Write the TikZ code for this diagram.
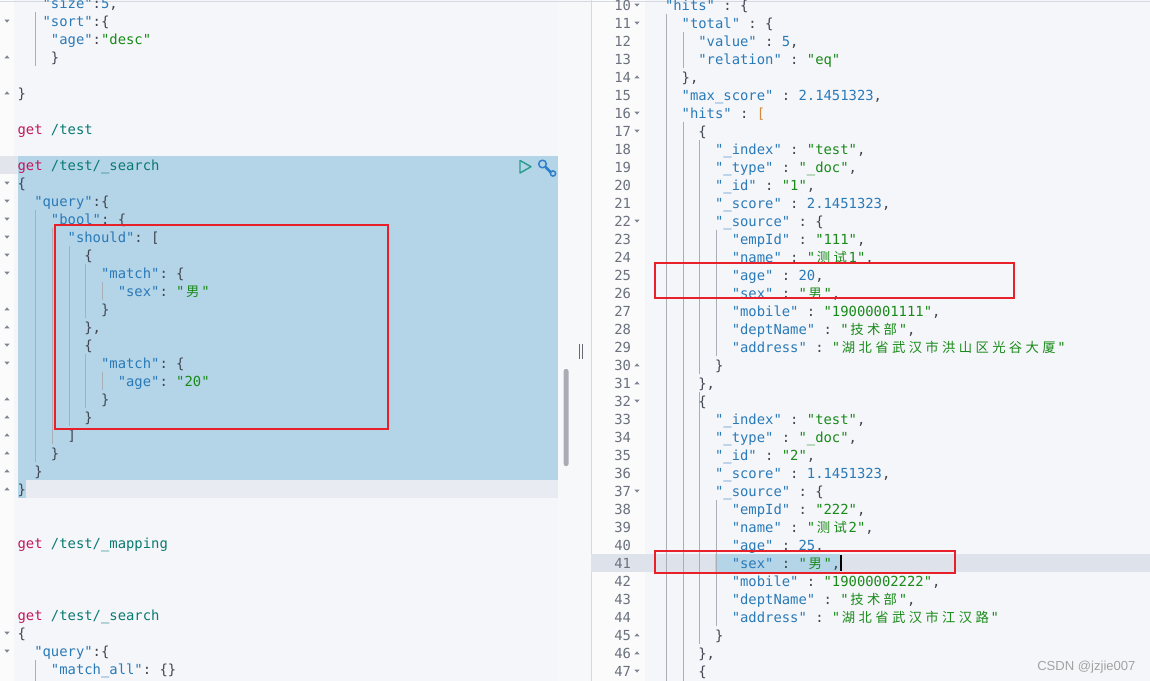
\documentclass[tikz,border=0pt]{standalone}
\usepackage{fontspec}
\setmonofont{DejaVu Sans Mono}
\newfontfamily\cjk{Noto Sans CJK SC}
\newfontfamily\wmfont{Liberation Sans}
\frenchspacing
\definecolor{ckey}{HTML}{2A7AB8}
\definecolor{cstr}{HTML}{198A19}
\definecolor{cnum}{HTML}{2A7AB8}
\definecolor{cpun}{HTML}{404550}
\definecolor{cmeth}{HTML}{C2185B}
\definecolor{cpath}{HTML}{0A7A70}
\definecolor{cbrk}{HTML}{D08C3C}
\definecolor{cline}{HTML}{6A717D}
\definecolor{cfold}{HTML}{7D838F}
\definecolor{csel}{HTML}{B4D4E8}
\definecolor{cbg}{HTML}{F5F6FA}
\definecolor{cgut}{HTML}{FBFBFC}
\definecolor{cguide}{HTML}{A9AEB7}
\definecolor{cred}{HTML}{E8202A}
\definecolor{cact}{HTML}{E8EBF2}
\definecolor{cactg}{HTML}{E2E5EB}
\definecolor{crow}{HTML}{DEE3EB}
\definecolor{cthumb}{HTML}{A9ACB4}
\definecolor{cwm}{HTML}{A3A3A3}
\definecolor{cplay}{HTML}{2C9C8E}
\definecolor{cwrench}{HTML}{2F7FC8}
\definecolor{cborder}{HTML}{D5DAE2}
\definecolor{csep}{HTML}{F7F8FA}
\newlength\cw
\setlength\cw{6.2613pt}
\let\zhend\relax
\newcommand\zh[1]{\zhloop#1\zhend}
\def\zhloop#1{\ifx#1\zhend\else\makebox[2\cw][c]{\cjk\fontsize{10pt}{12pt}\selectfont#1}\expandafter\zhloop\fi}
\newcommand\K[1]{\textcolor{ckey}{#1}}
\newcommand\Sv[1]{\textcolor{cstr}{#1}}
\newcommand\Nu[1]{\textcolor{cnum}{#1}}
\newcommand\Me[1]{\textcolor{cmeth}{#1}}
\newcommand\Pa[1]{\textcolor{cpath}{#1}}
\newcommand\Br[1]{\textcolor{cbrk}{#1}}
\newcommand\LL[4]{\node[code] (#1) at ({17.6+#2*8.348},{#3+5.2}) {#4};}
\newcommand\RL[4]{\node[code] (#1) at ({648.3+#2*8.348},{5+(#3-10)*18+5.2}) {#4};}
\newcommand\fdn[2]{\fill[cfold] ({#1-2.6},{#2-1.4}) -- ({#1+2.6},{#2-1.4}) -- (#1,{#2+1.6}) -- cycle;}
\newcommand\fup[2]{\fill[cfold] ({#1-2.6},{#2+1.4}) -- ({#1+2.6},{#2+1.4}) -- (#1,{#2-1.6}) -- cycle;}
\tikzset{
  code/.style={anchor=base west, inner sep=0pt, outer sep=0pt, text=cpun,
    font=\ttfamily\fontsize{10.4pt}{12pt}\selectfont},
  lnum/.style={anchor=base east, inner sep=0pt, outer sep=0pt, text=cline,
    font=\ttfamily\fontsize{10.4pt}{12pt}\selectfont},
  guide/.style={draw=cguide, line width=0.75pt},
  redbox/.style={draw=cred, line width=1.5pt},
}
\begin{document}
\begin{tikzpicture}[x=0.75pt, y=-0.75pt]
\useasboundingbox (0,0) rectangle (1150,681);
\clip (0,0) rectangle (1150,681);
% backgrounds
\fill[cgut] (0,0) rectangle (14,681);
\fill[cbg] (14,0) rectangle (558,681);
\fill[csep] (558,0) rectangle (591,681);
\fill[cgut] (591,0) rectangle (645,681);
\fill[cbg] (645,0) rectangle (1150,681);
\draw[cborder, line width=0.6pt] (591,0) -- (591,681);
\draw[cborder, line width=0.75pt] (0,1.5) -- (1150,1.5);
% left highlights
\fill[cactg] (0,156) rectangle (18,174);
\fill[csel] (18,156) rectangle (558,480);
\fill[csel] (18,480) rectangle (26,498);
\fill[cact] (26,480) rectangle (558,498);
% right active row and selection
\fill[crow] (591,554) rectangle (1150,572);
\fill[csel] (715.1,554) rectangle (840.4,572);
\fill[black] (840.4,555) rectangle (842,571);
% scrollbar and separator
\fill[cthumb, rounded corners=1.5pt] (563.7,369) rectangle (568.5,466);
\draw[cfold!80!black, line width=0.75pt] (579.3,344) -- (579.3,359);
\draw[cfold!80!black, line width=0.75pt] (582.5,344) -- (582.5,359);
% left guides
\draw[guide] (35.6,12) -- (35.6,66);
\draw[guide] (35.6,210) -- (35.6,462);
\draw[guide] (35.6,660) -- (35.6,681);
\draw[guide] (52.3,228) -- (52.3,444);
\draw[guide] (69.0,246) -- (69.0,426);
\draw[guide] (85.7,264) -- (85.7,318);
\draw[guide] (85.7,354) -- (85.7,408);
\draw[guide] (102.4,282) -- (102.4,300);
\draw[guide] (102.4,372) -- (102.4,390);
% right guides
\draw[guide] (666.3,14) -- (666.3,681);
\draw[guide] (683.0,32) -- (683.0,68);
\draw[guide] (683.0,122) -- (683.0,681);
\draw[guide] (699.7,140) -- (699.7,374);
\draw[guide] (699.7,392) -- (699.7,644);
\draw[guide] (716.4,230) -- (716.4,356);
\draw[guide] (716.4,500) -- (716.4,626);
% left fold markers
\foreach \y in {21,183,201,219,237,255,273,345,363,633,651} {\fdn{7}{\y}}
\foreach \y in {57,93,309,327,399,417,435,453,471,489} {\fup{7}{\y}}
% right fold markers
\foreach \n in {10,11,16,17,22,32,37,47} {\fdn{637}{5+(\n-10)*18}}
\foreach \n in {14,30,31,45,46} {\fup{637}{5+(\n-10)*18}}
% right line numbers
\foreach \n in {10,...,47} {\node[lnum] (n\n) at (631,{5+(\n-10)*18+5.2}) {\n};}
% left code
\LL{L3}{3}{3}{\K{"size"}:\Nu{5},}
\LL{L21}{3}{21}{\K{"sort"}:\{}
\LL{L39}{4}{39}{\K{"age"}:\Sv{"desc"}}
\LL{L57}{4}{57}{\}}
\LL{L93}{0}{93}{\}}
\LL{L129}{0}{129}{\Me{get} \Pa{/test}}
\LL{L165}{0}{165}{\Me{get} \Pa{/test/\_search}}
\LL{L183}{0}{183}{\{}
\LL{L201}{2}{201}{\K{"query"}:\{}
\LL{L219}{4}{219}{\K{"bool"}: \{}
\LL{L237}{6}{237}{\K{"should"}: [}
\LL{L255}{8}{255}{\{}
\LL{L273}{10}{273}{\K{"match"}: \{}
\LL{L291}{12}{291}{\K{"sex"}: \Sv{"\zh{男}"}}
\LL{L309}{10}{309}{\}}
\LL{L327}{8}{327}{\},}
\LL{L345}{8}{345}{\{}
\LL{L363}{10}{363}{\K{"match"}: \{}
\LL{L381}{12}{381}{\K{"age"}: \Sv{"20"}}
\LL{L399}{10}{399}{\}}
\LL{L417}{8}{417}{\}}
\LL{L435}{6}{435}{]}
\LL{L453}{4}{453}{\}}
\LL{L471}{2}{471}{\}}
\LL{L489}{0}{489}{\}}
\LL{L543}{0}{543}{\Me{get} \Pa{/test/\_mapping}}
\LL{L615}{0}{615}{\Me{get} \Pa{/test/\_search}}
\LL{L633}{0}{633}{\{}
\LL{L651}{2}{651}{\K{"query"}:\{}
\LL{L669}{4}{669}{\K{"match\_all"}: \{\}}
% right code
\RL{R10}{2}{10}{\K{"hits"} : \{}
\RL{R11}{4}{11}{\K{"total"} : \{}
\RL{R12}{6}{12}{\K{"value"} : \Nu{5},}
\RL{R13}{6}{13}{\K{"relation"} : \Sv{"eq"}}
\RL{R14}{4}{14}{\},}
\RL{R15}{4}{15}{\K{"max\_score"} : \Nu{2.1451323},}
\RL{R16}{4}{16}{\K{"hits"} : \Br{[}}
\RL{R17}{6}{17}{\{}
\RL{R18}{8}{18}{\K{"\_index"} : \Sv{"test"},}
\RL{R19}{8}{19}{\K{"\_type"} : \Sv{"\_doc"},}
\RL{R20}{8}{20}{\K{"\_id"} : \Sv{"1"},}
\RL{R21}{8}{21}{\K{"\_score"} : \Nu{2.1451323},}
\RL{R22}{8}{22}{\K{"\_source"} : \{}
\RL{R23}{10}{23}{\K{"empId"} : \Sv{"111"},}
\RL{R24}{10}{24}{\K{"name"} : \Sv{"\zh{测试}1"},}
\RL{R25}{10}{25}{\K{"age"} : \Nu{20},}
\RL{R26}{10}{26}{\K{"sex"} : \Sv{"\zh{男}"},}
\RL{R27}{10}{27}{\K{"mobile"} : \Sv{"19000001111"},}
\RL{R28}{10}{28}{\K{"deptName"} : \Sv{"\zh{技术部}"},}
\RL{R29}{10}{29}{\K{"address"} : \Sv{"\zh{湖北省武汉市洪山区光谷大厦}"}}
\RL{R30}{8}{30}{\}}
\RL{R31}{6}{31}{\},}
\RL{R32}{6}{32}{\{}
\RL{R33}{8}{33}{\K{"\_index"} : \Sv{"test"},}
\RL{R34}{8}{34}{\K{"\_type"} : \Sv{"\_doc"},}
\RL{R35}{8}{35}{\K{"\_id"} : \Sv{"2"},}
\RL{R36}{8}{36}{\K{"\_score"} : \Nu{1.1451323},}
\RL{R37}{8}{37}{\K{"\_source"} : \{}
\RL{R38}{10}{38}{\K{"empId"} : \Sv{"222"},}
\RL{R39}{10}{39}{\K{"name"} : \Sv{"\zh{测试}2"},}
\RL{R40}{10}{40}{\K{"age"} : \Nu{25},}
\RL{R41}{10}{41}{\K{"sex"} : \Sv{"\zh{男}"},}
\RL{R42}{10}{42}{\K{"mobile"} : \Sv{"19000002222"},}
\RL{R43}{10}{43}{\K{"deptName"} : \Sv{"\zh{技术部}"},}
\RL{R44}{10}{44}{\K{"address"} : \Sv{"\zh{湖北省武汉市江汉路}"}}
\RL{R45}{8}{45}{\}}
\RL{R46}{6}{46}{\},}
\RL{R47}{6}{47}{\{}
% icons
\draw[cplay, line width=1.1pt, line join=round] (520,160.5) -- (520,173) -- (531,166.7) -- cycle;
\draw[cwrench, line width=1.1pt] (542.5,164) circle[radius=3.8];
\draw[cwrench, line width=2pt, line cap=round] (545.5,167) -- (550.5,172);
\draw[cwrench, line width=1.1pt] (553,173.5) circle[radius=2.6];
% red boxes
\draw[redbox] (55,225) rectangle (388,429);
\draw[redbox] (655.3,263) rectangle (1013.5,298);
\draw[redbox] (655.3,551) rectangle (954.5,573);
% watermark
\node[anchor=base west, inner sep=0pt, text=cwm, font=\wmfont\fontsize{9.8pt}{12pt}\selectfont] (wm) at (1037,670) {CSDN @jzjie007};
\end{tikzpicture}
\end{document}
